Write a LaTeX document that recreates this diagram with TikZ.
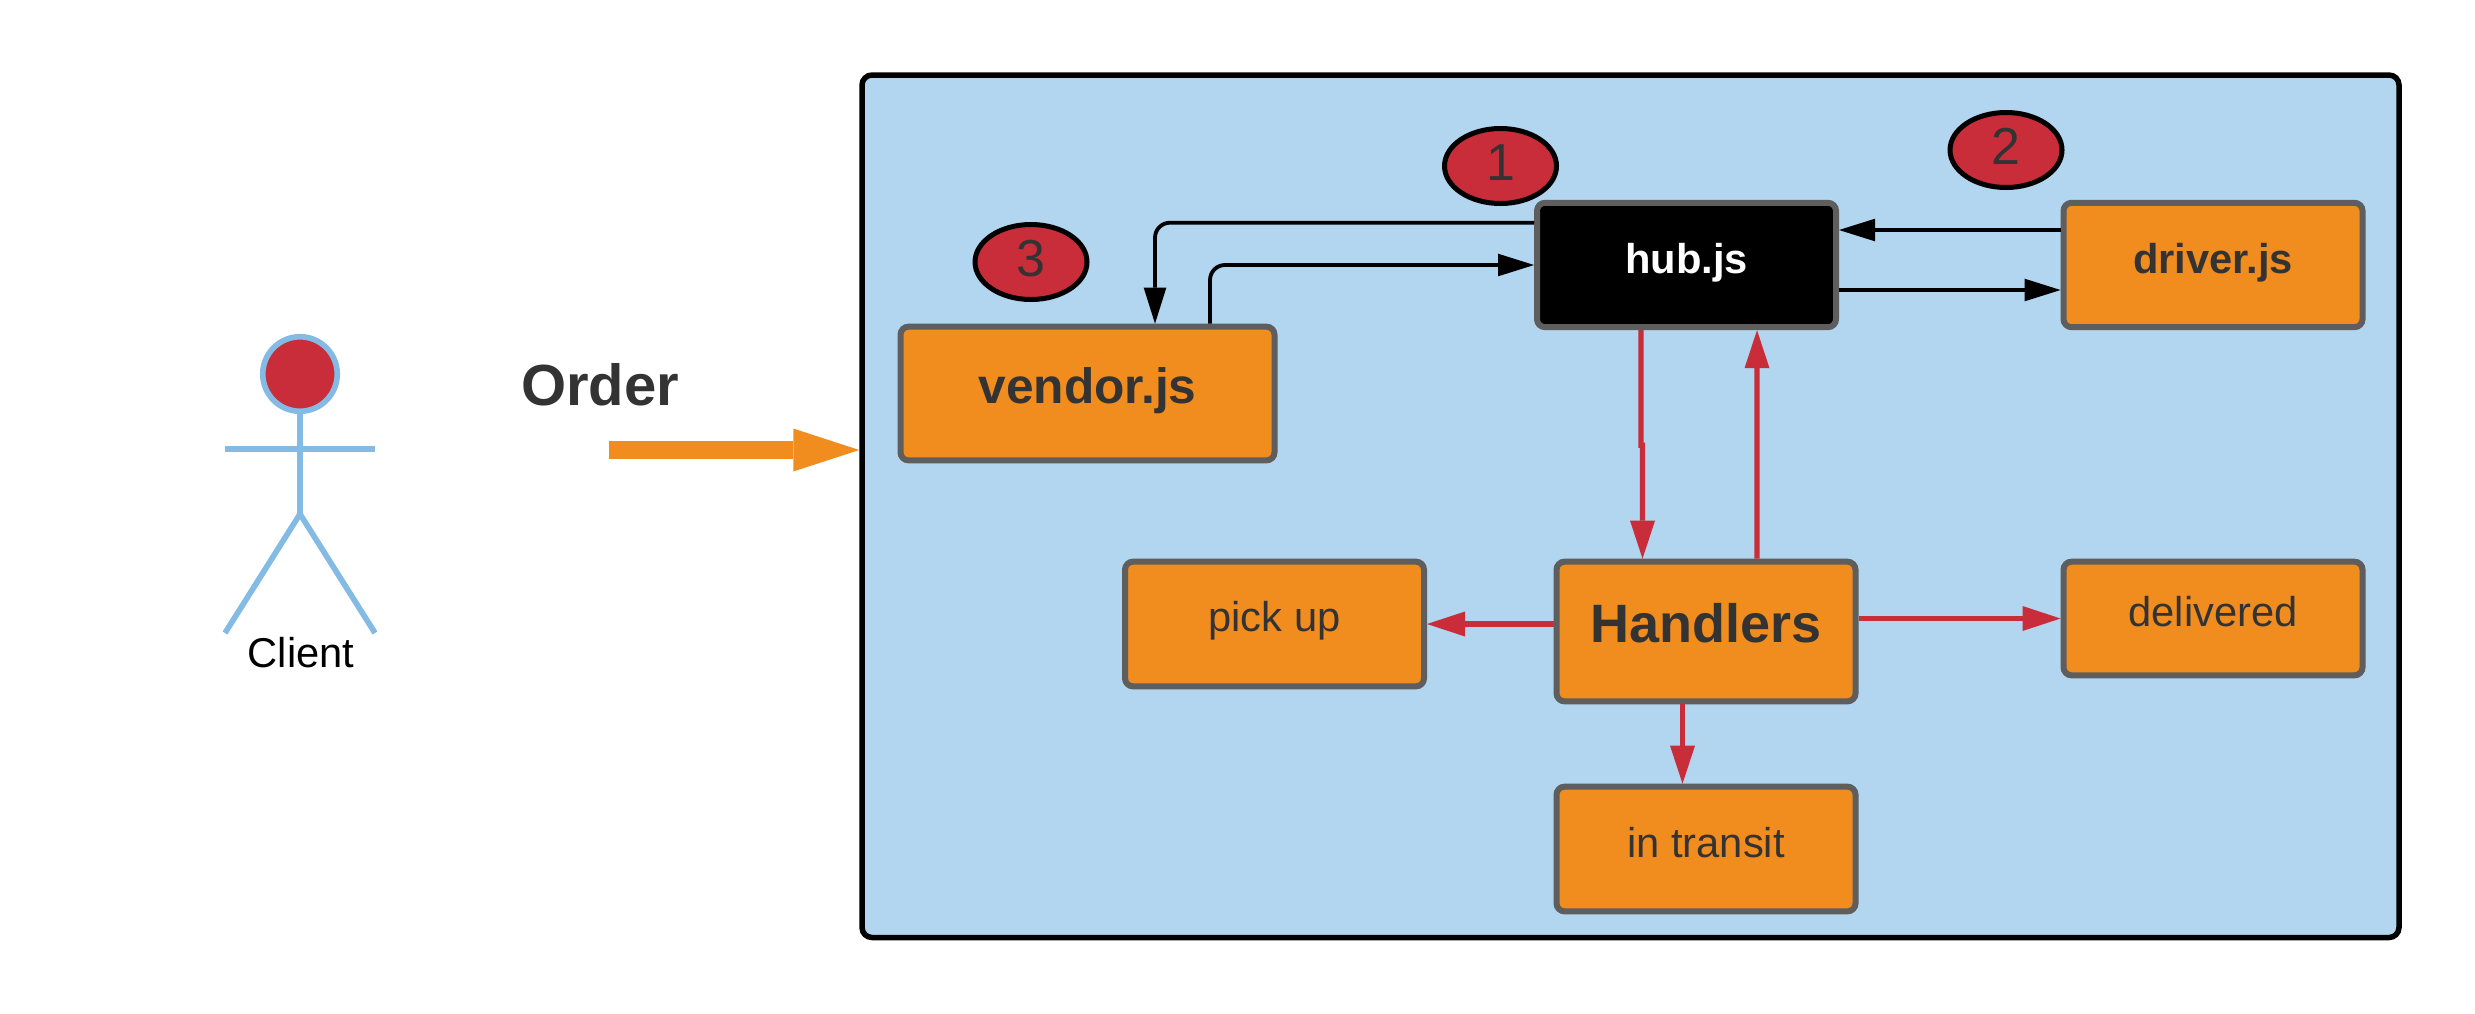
\documentclass[tikz,border=0pt]{standalone}
\usepackage{fontspec}
\setmainfont{Liberation Sans}
\usetikzlibrary{arrows.meta,shapes.geometric}
\definecolor{panelblue}{HTML}{B2D6EF}
\definecolor{stickblue}{HTML}{83BBE5}
\definecolor{boxorange}{HTML}{F18C1F}
\definecolor{boxgray}{HTML}{5E5E5E}
\definecolor{tomato}{HTML}{C92D39}
\definecolor{ink}{HTML}{333333}
\tikzset{
  panelbox/.style={draw=black, fill=panelblue, line width=1.65pt, rounded corners=3pt},
  box/.style={rectangle, draw=boxgray, fill=boxorange, line width=1.8pt, rounded corners=2.4pt, inner sep=0pt, text=ink, text depth=0pt},
  boldname/.style={font=\fontsize{12.5}{14}\selectfont\bfseries},
  plainname/.style={font=\fontsize{12.5}{14}\selectfont},
  badge/.style={ellipse, draw=black, fill=tomato, line width=1.5pt, inner sep=0pt, minimum width=33.6pt, minimum height=22.5pt, text=ink, text height=8.7pt, text depth=0pt, font=\fontsize{15.6}{18}\selectfont},
  blackarrow/.style={draw=black, line width=1.15pt, -{Triangle[length=10.8pt,width=6.8pt,line width=0pt]}},
  redarrow/.style={draw=tomato, line width=1.55pt, -{Triangle[length=11.4pt,width=7.5pt,line width=0pt]}},
  stick/.style={draw=stickblue, line width=1.7pt}
}
\begin{document}
\begin{tikzpicture}[x=0.3pt, y=-0.3pt]
  \useasboundingbox (0,0) rectangle (2475,1013);
  \node[panelbox, minimum width=461.1pt, minimum height=258.75pt] (panel) at (1630.5,506.25) {};
  \node[box, minimum width=112.2pt, minimum height=40.1pt, text height=5.7pt, font=\fontsize{14.9}{17}\selectfont\bfseries] (vendor) at (1087.5,393.5) {vendor.js};
  \node[box, boldname, fill=black, text=white, minimum width=89.7pt, minimum height=37.3pt, text height=4.8pt] (hub) at (1686.5,265) {hub.js};
  \node[box, boldname, minimum width=89.7pt, minimum height=37.3pt, text height=4.8pt] (driver) at (2213,265) {driver.js};
  \node[box, minimum width=89.7pt, minimum height=41.9pt, text height=6.6pt, font=\fontsize{16.2}{18}\selectfont\bfseries] (handlers) at (1706,631.5) {Handlers};
  \node[box, plainname, minimum width=89.7pt, minimum height=37.4pt, text height=4.6pt] (pickup) at (1274.5,624) {pick up};
  \node[box, plainname, minimum width=89.7pt, minimum height=34.1pt, text height=4.9pt] (delivered) at (2213,618.5) {delivered};
  \node[box, plainname, minimum width=89.7pt, minimum height=37.4pt, text height=5.2pt] (intransit) at (1706,849) {in transit};
  \node[badge] (one) at (1500.5,166) {1};
  \node[badge] (two) at (2006,150) {2};
  \node[badge] (three) at (1031,262) {3};
  \draw[blackarrow, rounded corners=4.5pt] ([yshift=12.7pt]hub.west) -| ([xshift=20.25pt]vendor.north);
  \draw[blackarrow, rounded corners=4.5pt] ([xshift=36.75pt]vendor.north) |- (hub.west);
  \draw[blackarrow] ([yshift=10.5pt]driver.west) -- ([yshift=10.5pt]hub.east);
  \draw[blackarrow] ([yshift=-7.5pt]hub.east) -- ([yshift=-7.5pt]driver.west);
  \draw[redarrow] ([xshift=-13.65pt]hub.south) -- ++(0,115) -- ++(1.5,0) -- ([xshift=-19.05pt]handlers.north);
  \draw[redarrow] ([xshift=15.3pt]handlers.north) -- ([xshift=21.15pt]hub.south);
  \draw[redarrow] (handlers.west |- pickup) -- (pickup.east);
  \draw[redarrow] (handlers.east |- delivered) -- (delivered.west);
  \draw[redarrow] ([xshift=-7.05pt]handlers.south) -- ([xshift=-7.05pt]intransit.north);
  \node[circle, draw=stickblue, fill=tomato, line width=1.7pt, minimum size=22.35pt, inner sep=0pt] (head) at (300,374) {};
  \coordinate (hip) at (300,514);
  \coordinate (lefthand) at (225,449);
  \coordinate (righthand) at (375,449);
  \coordinate (leftfoot) at (225,633);
  \coordinate (rightfoot) at (375,633);
  \draw[stick] (head.south) -- (hip);
  \draw[stick] (lefthand) -- (righthand);
  \draw[stick, line join=round] (leftfoot) -- (hip) -- (rightfoot);
  \node[anchor=base, inner sep=0pt, text=black, plainname] (client) at (301,667) {Client};
  \node[anchor=base, inner sep=0pt, text=ink, font=\fontsize{17.4}{20}\selectfont\bfseries] (order) at (600,405) {Order};
  \coordinate (orderstart) at (609,450);
  \draw[draw=boxorange, line width=5.4pt, -{Triangle[length=19.8pt,width=12.9pt,line width=0pt]}] (orderstart) -- (panel.west |- orderstart);
\end{tikzpicture}
\end{document}
